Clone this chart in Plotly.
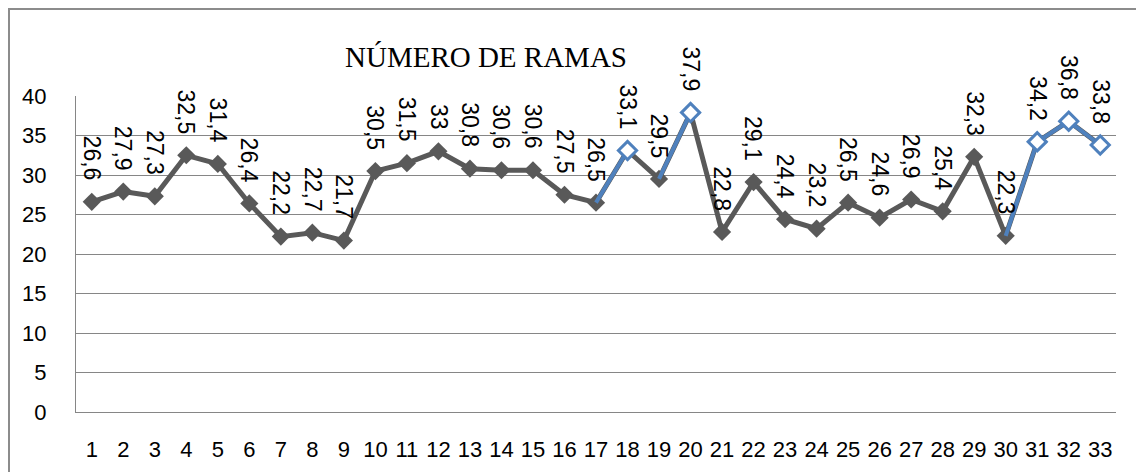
import plotly.graph_objects as go

categories = list(range(1, 34))
values = [26.6, 27.9, 27.3, 32.5, 31.4, 26.4, 22.2, 22.7, 21.7, 30.5,
          31.5, 33.0, 30.8, 30.6, 30.6, 27.5, 26.5, 33.1, 29.5, 37.9,
          22.8, 29.1, 24.4, 23.2, 26.5, 24.6, 26.9, 25.4, 32.3, 22.3,
          34.2, 36.8, 33.8]
# blue (highlighted) segments given as runs of category numbers
blue_runs = [[17, 18], [19, 20], [30, 31, 32, 33]]
blue_points = [18, 20, 31, 32, 33]
y_ticks = [0, 5, 10, 15, 20, 25, 30, 35, 40]
title_text = "NÚMERO DE RAMAS"

GRAY = "#595959"
BLUE = "#4f81bd"
FONT = "Liberation Sans"

# page has an 8px body margin; figure is sized to fit inside the window
W, H = 1136, 464
OFF = 8
L, T, PW, PH = 76 - OFF, 96 - OFF, 1040, 316


def fmt(v):
    s = ("%.1f" % v).rstrip("0").rstrip(".")
    return s.replace(".", ",")


fig = go.Figure()
fig.add_trace(go.Scatter(
    x=categories, y=values, mode="lines+markers",
    line=dict(color=GRAY, width=5),
    marker=dict(symbol="diamond", size=14, color=GRAY),
    cliponaxis=False, hoverinfo="skip", showlegend=False))

for run in blue_runs:
    fig.add_trace(go.Scatter(
        x=run, y=[values[c - 1] for c in run], mode="lines",
        line=dict(color=BLUE, width=4), cliponaxis=False,
        hoverinfo="skip", showlegend=False))

fig.add_trace(go.Scatter(
    x=blue_points, y=[values[c - 1] for c in blue_points], mode="markers",
    marker=dict(symbol="diamond", size=14, color="white",
                line=dict(color=BLUE, width=3)),
    cliponaxis=False, hoverinfo="skip", showlegend=False))

for c, v in zip(categories, values):
    fig.add_annotation(
        x=c, y=v, xref="x", yref="y", text=fmt(v), textangle=90,
        showarrow=False, xanchor="center", yanchor="bottom", yshift=19,
        font=dict(family=FONT, size=23, color="black"))

# outer chart frame (figure pixel coords converted to paper coords)
fx0, fx1, fy0, fy1 = 1, 1142 - OFF, 1, H + 20
fig.add_shape(type="rect", xref="paper", yref="paper",
              x0=(fx0 - L) / PW, x1=(fx1 - L) / PW,
              y0=(T + PH - fy1) / PH, y1=(T + PH - fy0) / PH,
              line=dict(color="#8c8c8c", width=2), layer="below")

fig.update_layout(
    width=W, height=H,
    margin=dict(l=L, r=W - L - PW, t=T, b=H - T - PH, autoexpand=False),
    paper_bgcolor="white", plot_bgcolor="white",
    title=dict(text=title_text, x=(486 - OFF) / W, xanchor="center",
               y=1 - (57 - OFF) / H, yanchor="middle",
               xref="container", yref="container",
               font=dict(family="Liberation Serif, Times New Roman, serif",
                         size=29, color="black")),
    font=dict(family=FONT, size=23, color="black"),
)
fig.update_xaxes(
    range=[0.5, 33.5], tickmode="array", tickvals=categories,
    ticktext=[str(c) for c in categories], showgrid=False,
    showline=True, linecolor="#868686", linewidth=1, ticks="",
    ticklabelstandoff=18, zeroline=False, tickfont=dict(size=22))
fig.update_yaxes(
    range=[0, 40], tickmode="array", tickvals=y_ticks,
    showgrid=True, gridcolor="#868686", gridwidth=1,
    showline=True, linecolor="#868686", linewidth=1, ticks="",
    ticklabelstandoff=24, zeroline=False, tickfont=dict(size=22))

fig.write_html("out.html")
